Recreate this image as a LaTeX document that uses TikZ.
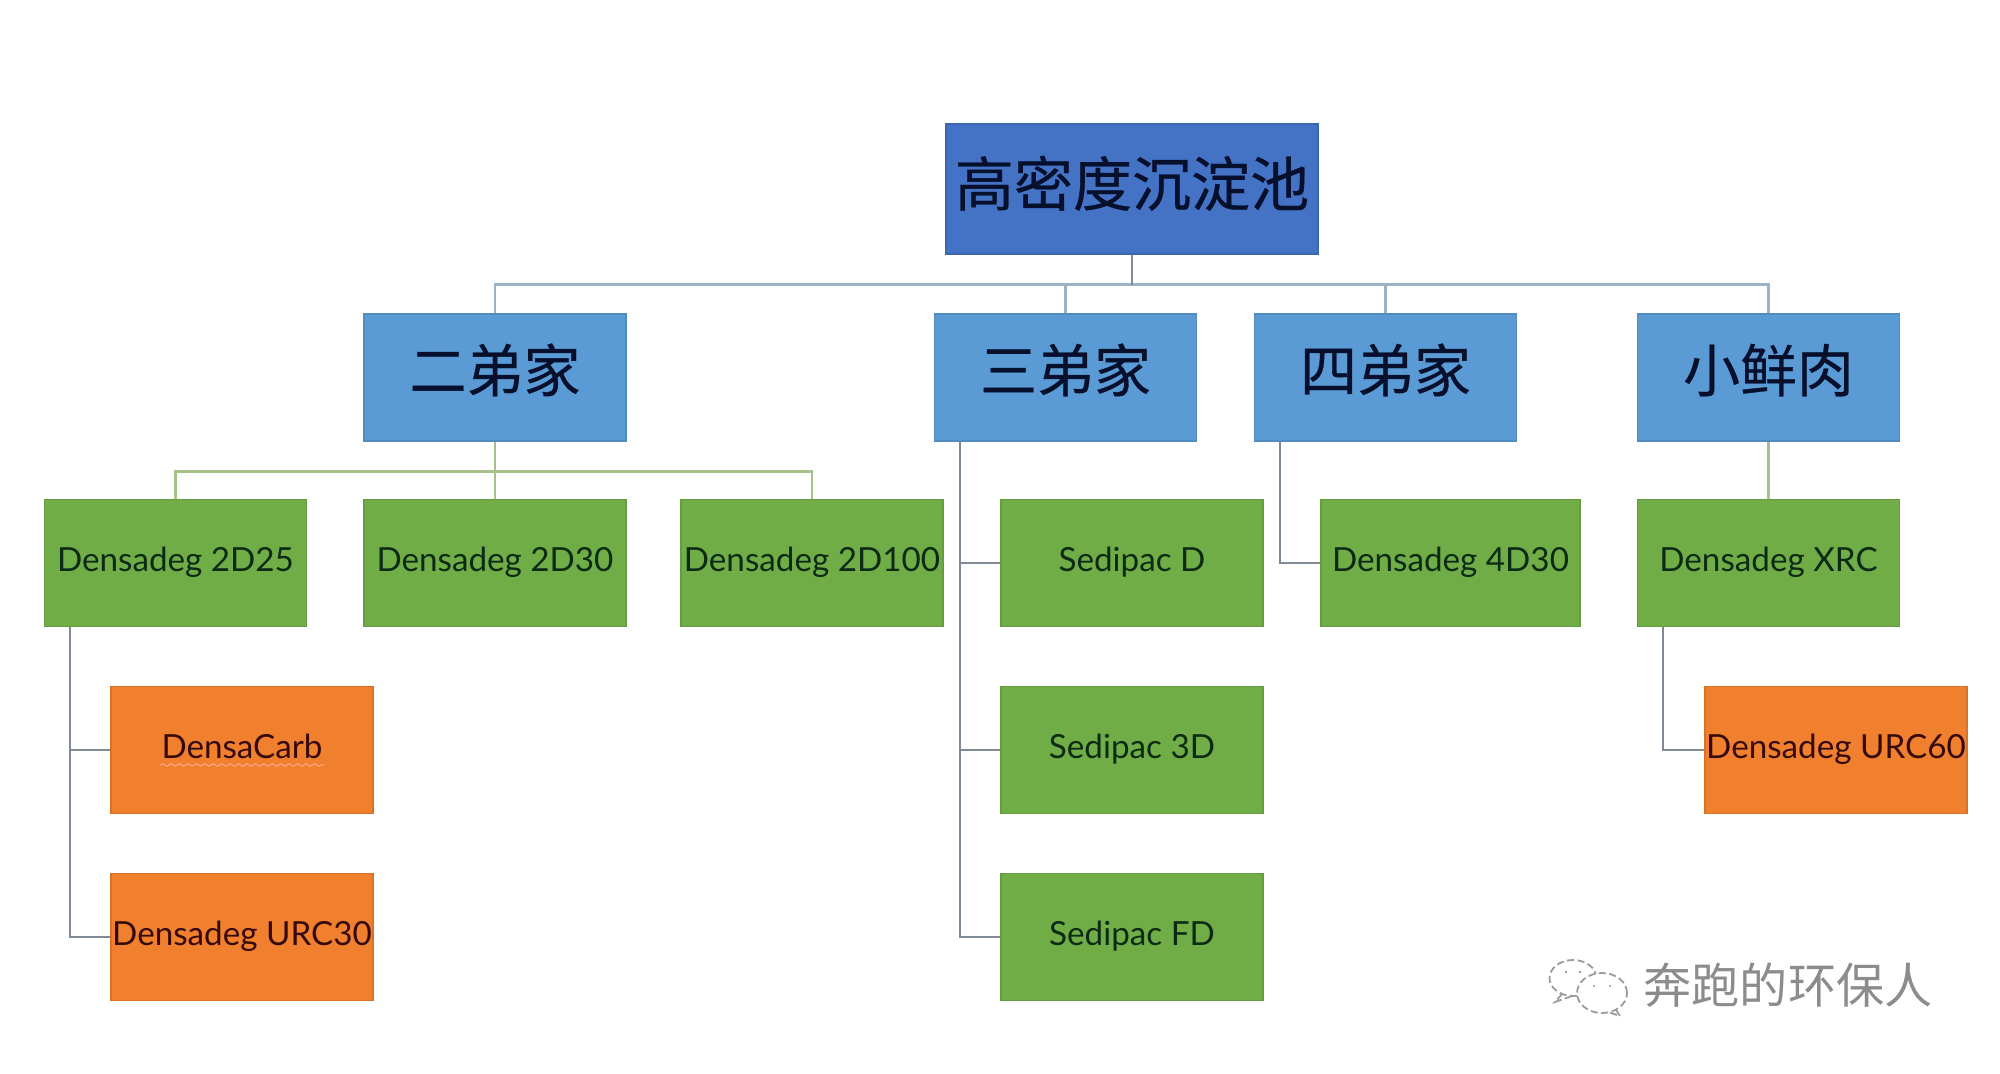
\documentclass[tikz,border=0pt]{standalone}
\usepackage{fontspec}
\setmainfont{Lato}
\newfontfamily\cjk[FakeBold=0.5]{Noto Sans CJK SC}
\newfontfamily\cjkmark{Noto Sans CJK SC}
\usepackage{tikz}
\usetikzlibrary{calc,decorations.pathmorphing}

\definecolor{rootblue}{HTML}{4472C4}
\definecolor{brandblue}{HTML}{5B9BD5}
\definecolor{modelgreen}{HTML}{70AD47}
\definecolor{variantorange}{HTML}{F07F2E}
\definecolor{inkdark}{HTML}{060F2C}
\definecolor{inkgreen}{HTML}{0C2A14}
\definecolor{inkred}{HTML}{360A0C}
\definecolor{toplinkcol}{HTML}{9BB3C4}
\definecolor{grouplinkcol}{HTML}{A8C08A}
\definecolor{linkcol}{HTML}{7F8A96}

\tikzset{
  box/.style={rectangle,minimum width=2.62cm,minimum height=1.27cm,inner sep=0pt},
  cjkbox/.style={box,text=inkdark},
  rootbox/.style={cjkbox,fill=rootblue,draw=rootblue!90!black,line width=.3pt,minimum width=3.72cm,minimum height=1.3cm,
                  text height=.4cm,text depth=.06cm,font=\cjk\fontsize{16.8}{20}\selectfont},
  brand/.style={cjkbox,fill=brandblue,draw=brandblue!90!black,line width=.3pt,
                  text height=.35cm,text depth=.065cm,font=\cjk\fontsize{16.2}{20}\selectfont},
  model/.style={box,fill=modelgreen,draw=modelgreen!90!black,line width=.3pt,text=inkgreen,
                text height=.28cm,text depth=.12cm,font=\fontsize{9.45}{12}\selectfont},
  variant/.style={box,fill=variantorange,draw=variantorange!90!black,line width=.3pt,text=inkred,
                text height=.28cm,text depth=.12cm,font=\fontsize{9.45}{12}\selectfont},
  toplink/.style={draw=toplinkcol,line width=.8pt},
  grouplink/.style={draw=grouplinkcol,line width=.8pt},
  link/.style={draw=linkcol,line width=.7pt},
  wechat/.style={draw=black!40,line width=.5pt,dash pattern=on 2pt off 1pt}
}

\begin{document}
\begin{tikzpicture}[node distance=3.2cm]
 \useasboundingbox (0,0) rectangle (20,-10.74);

 \node[rootbox] (root) at (11.32,-1.89) {高密度沉淀池};

 \node[brand] (er) at (4.95,-3.775)    {二弟家};
 \node[brand] (san) [right of=er,node distance=5.705cm] {三弟家};
 \node[brand] (si) [right of=san]       {四弟家};
 \node[brand] (xiao) [right of=si,node distance=3.83cm] {小鲜肉};

 \node[model] (d30) [below of=er,node distance=1.855cm] {Densadeg 2D30};
 \node[model] (d25) [left of=d30,node distance=3.195cm] {Densadeg 2D25};
 \node[model] (d100) [right of=d30,node distance=3.17cm] {Densadeg 2D100};
 \node[model] (sedD) [right of=d100]    {Sedipac D};
 \node[model,minimum width=2.59cm] (d4) [right of=sedD,node distance=3.185cm] {Densadeg 4D30};
 \node[model] (xrc) [below of=xiao,node distance=1.855cm] {Densadeg XRC};

 \node[model] (sed3) [below of=sedD,node distance=1.87cm] {Sedipac 3D};
 \node[model] (sedFD) [below of=sed3,node distance=1.87cm] {Sedipac FD};

 \node[variant] (carb) at ($(d25)+(.665,-1.87)$) {DensaCarb};
 \node[variant] (urc30) [below of=carb,node distance=1.87cm] {Densadeg URC30};
 \node[variant] (urc60) at ($(xrc)+(.675,-1.87)$) {Densadeg URC60};

 % spell-check squiggle under the label
 \draw[red!45!orange!50!white,line width=.35pt,decorate,decoration={snake,amplitude=.35pt,segment length=2.4pt}]
   ($(carb.center)+(-.82,-.15)$) -- ($(carb.center)+(.82,-.15)$);

 \coordinate (busroot) at ($(root.south)+(0,-.3)$);
 \foreach \n in {er,san,si,xiao}
   \draw[toplink] (busroot) -| (\n);
 \draw[link] (root.south) -- (busroot);

 \coordinate (buser) at ($(er.south)+(0,-.3)$);
 \foreach \n in {d25,d30,d100}
   \draw[grouplink] (er.south) -- (buser) -| (\n);
 \draw[grouplink] (xiao) -- (xrc);

 \foreach \a/\b in {san/sedD,san/sed3,san/sedFD,si/d4,d25/carb,d25/urc30,xrc/urc60}
   \draw[link] ($(\a.south west)+(.26,0)$) |- (\b);

 % watermark
 \draw[wechat] (15.73,-9.78) ellipse (.235 and .18);
 \draw[wechat,fill=white] (16.02,-9.93) ellipse (.25 and .2);
 \draw[wechat] (15.62,-9.94) -- (15.55,-10.02) -- (15.72,-9.96);
 \draw[wechat] (16.16,-10.1) -- (16.2,-10.16) -- (16.08,-10.12);
 \fill[black!40] (15.66,-9.72) circle (.014) (15.8,-9.72) circle (.014)
                 (15.94,-9.86) circle (.012) (16.1,-9.86) circle (.012);
 \node[text=black!45,font=\cjkmark\fontsize{13.7}{16}\selectfont] (mark) at (17.88,-9.855) {奔跑的环保人};
\end{tikzpicture}
\end{document}
